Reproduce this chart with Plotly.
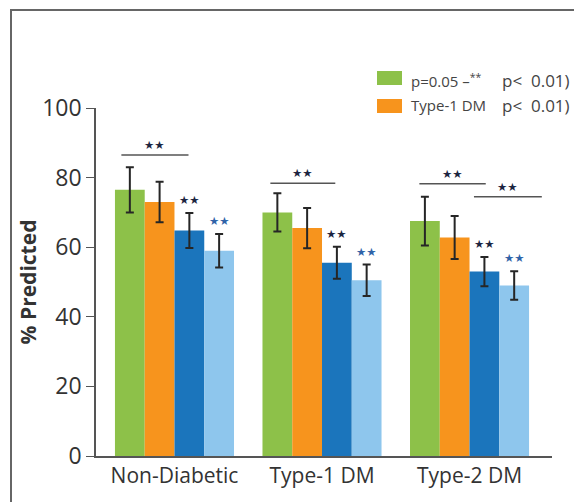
import plotly.graph_objects as go

categories = ["Non-Diabetic", "Type-1 DM", "Type-2 DM"]
series_names = ["p=0.05", "Type-1 DM", "Group 3", "Group 4"]
green_vals = [76.5, 70.0, 67.5]
green_err = [6.5, 5.5, 7.0]
orange_vals = [73.0, 65.5, 62.8]
orange_err = [5.8, 5.8, 6.2]
dblue_vals = [64.8, 55.5, 53.0]
dblue_err = [5.0, 4.6, 4.2]
lblue_vals = [59.0, 50.5, 49.0]
lblue_err = [4.8, 4.5, 4.1]
y_ticks = [0, 20, 40, 60, 80, 100]
# significance brackets: (group index, value)
sig_lines = [(0, 86.5), (1, 78.4), (2, 78.2), (2, 74.5)]

colors = ["#8dc149", "#f7941d", "#1b75bc", "#8ec6ed"]
all_vals = [green_vals, orange_vals, dblue_vals, lblue_vals]
all_errs = [green_err, orange_err, dblue_err, lblue_err]

W, H = 574, 502
L, R, T, B = 96, 22, 108, 46
PW, PH = W - L - R, H - T - B
BARGAP = 0.193
BW = (1 - BARGAP) / 4
X_RANGE = [-0.532, 2.559]

def px(x):
    return (x - L) / PW

def py(y):
    return (H - B - y) / PH

fig = go.Figure()
for i in range(4):
    fig.add_trace(go.Bar(
        x=categories, y=all_vals[i], name=series_names[i],
        marker=dict(color=colors[i], line=dict(width=0)),
        error_y=dict(type="data", array=all_errs[i], visible=True,
                     color="#262626", thickness=2, width=4),
        showlegend=False,
    ))

def off(i):
    return -(1 - BARGAP) / 2 + (i + 0.5) * BW

shapes = []
annotations = []
line_spans = [(-0.36, 0.095), (-0.35, 0.09), (-0.34, 0.11), (0.03, 0.49)]
for (g, v), (a, b) in zip(sig_lines, line_spans):
    shapes.append(dict(type="line", xref="x", yref="y", x0=g + a, x1=g + b,
                       y0=v, y1=v, line=dict(color="#555555", width=1.5)))
    annotations.append(dict(x=g + (a + b) / 2, y=v, xref="x", yref="y",
                            text="★★", showarrow=False, yanchor="bottom",
                            yshift=1, font=dict(family="DejaVu Sans", size=11.5,
                                                color="#1c2541")))

star_colors = {2: "#1c2541", 3: "#2f63a8"}
for i in (2, 3):
    for g in range(3):
        annotations.append(dict(x=g + off(i), y=all_vals[i][g] + all_errs[i][g],
                                xref="x", yref="y", text="★★", showarrow=False,
                                yanchor="bottom", yshift=4,
                                font=dict(family="DejaVu Sans", size=11.5,
                                          color=star_colors[i])))

# legend drawn manually
leg_rows = [(78, 80, colors[0], "p=0.05 –<sup>**</sup>", "p<  0.01)"),
            (106, 105, colors[1], "Type-1 DM", "p<  0.01)")]
for yc, yt, col, t1, t2 in leg_rows:
    shapes.append(dict(type="rect", xref="paper", yref="paper",
                       x0=px(377), x1=px(402), y0=py(yc - 7), y1=py(yc + 7),
                       fillcolor=col, line=dict(width=0)))
    annotations.append(dict(x=px(409), y=py(yt), xref="paper", yref="paper",
                            text=t1, showarrow=False, xanchor="left",
                            yanchor="middle",
                            font=dict(family="Open Sans", size=15, color="#444")))
    annotations.append(dict(x=px(500), y=py(yt), xref="paper", yref="paper",
                            text=t2, showarrow=False, xanchor="left",
                            yanchor="middle",
                            font=dict(family="Open Sans", size=17, color="#444")))

# outer frame (right and bottom sides fall outside the page)
shapes.append(dict(type="rect", xref="paper", yref="paper", x0=px(11), x1=px(W + 20),
                   y0=py(10), y1=py(H + 20), line=dict(color="#666", width=2),
                   fillcolor="rgba(0,0,0,0)", layer="above"))

fig.update_layout(
    width=W, height=H,
    margin=dict(l=L, r=R, t=T, b=B),
    barmode="group", bargap=BARGAP, bargroupgap=0,
    paper_bgcolor="white", plot_bgcolor="white",
    font=dict(family="Open Sans", color="#333"),
    shapes=shapes, annotations=annotations,
    xaxis=dict(showline=True, linecolor="#555", linewidth=1.5, ticks="",
               showgrid=False, tickfont=dict(size=21, color="#333"),
               range=X_RANGE),
    yaxis=dict(range=[0, 100], tickvals=y_ticks, showline=True, linecolor="#555",
               linewidth=1.5, ticks="outside", ticklen=8, tickcolor="#555",
               showgrid=False, zeroline=False,
               tickfont=dict(size=23, color="#333"),
               title=dict(text="<b>% Predicted</b>", font=dict(size=21, color="#333"),
                          standoff=0)),
)

fig.write_html("out.html", config={"displayModeBar": False},
               post_script="document.documentElement.style.overflow='hidden';document.body.style.margin='0';document.body.style.overflow='hidden';")
